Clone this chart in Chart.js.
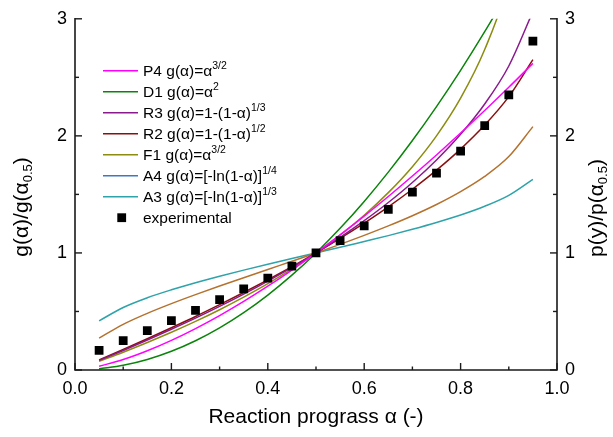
<!DOCTYPE html>
<html>
<head>
<meta charset="utf-8">
<script src="https://cdn.jsdelivr.net/npm/chart.js@4/dist/chart.umd.min.js"></script>
<style>
html,body{margin:0;padding:0;background:#fff;}
#wrap{position:relative;width:613px;height:437px;}
</style>
</head>
<body>
<div id="wrap"><canvas id="c" width="613" height="437"></canvas></div>
<script>
// Reaction progress values (x)
const alpha = [0.05,0.10,0.15,0.20,0.25,0.30,0.35,0.40,0.45,0.50,0.55,0.60,0.65,0.70,0.75,0.80,0.85,0.90,0.95];
// Experimental points
const experimental = [0.167,0.250,0.337,0.422,0.510,0.601,0.692,0.785,0.888,1.000,1.106,1.231,1.372,1.520,1.681,1.869,2.087,2.351,2.810];
// Model curves
const P4 = [0.032,0.089,0.164,0.253,0.354,0.465,0.586,0.716,0.854,1.000,1.154,1.315,1.482,1.657,1.837,2.024,2.217,2.415,2.619];
const D1 = [0.010,0.040,0.090,0.160,0.250,0.360,0.490,0.640,0.810,1.000,1.210,1.440,1.690,1.960,2.250,2.560,2.890,3.240,3.610];
const R3 = [0.082,0.167,0.256,0.348,0.443,0.543,0.648,0.759,0.876,1.000,1.133,1.276,1.431,1.602,1.794,2.013,2.272,2.597,3.062];
const R2 = [0.086,0.175,0.267,0.361,0.457,0.558,0.662,0.770,0.882,1.000,1.124,1.255,1.394,1.544,1.707,1.887,2.092,2.335,2.651];
const F1 = [0.074,0.152,0.235,0.322,0.415,0.515,0.622,0.737,0.863,1.000,1.152,1.322,1.515,1.737,2.000,2.322,2.737,3.322,4.322];
const A4curve = [0.272,0.390,0.484,0.567,0.644,0.717,0.788,0.859,0.929,1.000,1.073,1.150,1.231,1.318,1.414,1.524,1.654,1.823,2.079];
const A3 = [0.420,0.534,0.617,0.685,0.746,0.801,0.853,0.903,0.952,1.000,1.048,1.098,1.148,1.202,1.260,1.324,1.399,1.492,1.629];

// Tick labels
const xTickLabels = ['0.0','0.2','0.4','0.6','0.8','1.0'];
const yTickLabels = ['0','1','2','3'];

// Legend text
const legendNames = ['P4 g(α)=α','D1 g(α)=α','R3 g(α)=1-(1-α)','R2 g(α)=1-(1-α)','F1 g(α)=α','A4 g(α)=[-ln(1-α)]','A3 g(α)=[-ln(1-α)]','experimental'];
const legendSups = ['3/2','2','1/3','1/2','3/2','1/4','1/3',''];

const curveColors = ['#ff00ff','#0a840a','#8a1a8e','#8b0f0f','#8c8c10','#b5722e','#2ea3aa'];
const legendColors = ['#ff00ff','#0a840a','#8a1a8e','#8b0f0f','#8c8c10','#3d78c2','#2ea3aa'];

const FONT = '"Liberation Sans", Arial, Helvetica, sans-serif';
const AX = '#1a1a1a';

function pts(arr){ return alpha.map((a,i)=>({x:a,y:arr[i]})); }

const curveSets = [P4,D1,R3,R2,F1,A4curve,A3].map((arr,i)=>({
  label: legendNames[i],
  data: pts(arr),
  borderColor: curveColors[i],
  backgroundColor: curveColors[i],
  borderWidth: 1.5,
  pointRadius: 0,
  cubicInterpolationMode: 'monotone',
  fill: false,
  yAxisID: 'y'
}));

const expSet = {
  label: 'experimental',
  data: pts(experimental),
  showLine: false,
  pointStyle: 'rect',
  pointRadius: 6.2,
  pointBackgroundColor: '#000',
  pointBorderColor: '#000',
  pointBorderWidth: 0,
  borderColor: '#000',
  yAxisID: 'y'
};

function drawRich(ctx, parts, x, y, align){
  let total = 0;
  parts.forEach(p=>{ ctx.font = p.size+'px '+FONT; p.w = ctx.measureText(p.t).width; total += p.w + (p.gap||0); });
  let cx = align==='center' ? x - total/2 : x;
  parts.forEach(p=>{
    ctx.font = p.size+'px '+FONT;
    ctx.fillText(p.t, cx, y + (p.dy||0));
    cx += p.w + (p.gap||0);
  });
}

const decor = {
  id: 'decor',
  afterDraw(chart){
    const ctx = chart.ctx;
    const ca = chart.chartArea;
    const xs = chart.scales.x, ys = chart.scales.y;
    ctx.save();
    ctx.strokeStyle = AX;
    ctx.lineWidth = 1.6;
    ctx.lineCap = 'square';
    ctx.beginPath();
    ctx.moveTo(ca.left, ys.getPixelForValue(3));
    ctx.lineTo(ca.left, ys.getPixelForValue(0));
    ctx.lineTo(ca.right, ys.getPixelForValue(0));
    ctx.lineTo(ca.right, ys.getPixelForValue(3));
    ctx.stroke();
    ctx.lineWidth = 1.4;
    ctx.lineCap = 'butt';
    for (let k=0;k<=10;k++){
      const px = xs.getPixelForValue(k/10);
      const len = (k%2===0) ? 7 : 3.5;
      ctx.beginPath(); ctx.moveTo(px, ca.bottom); ctx.lineTo(px, ca.bottom-len); ctx.stroke();
    }
    for (let k=0;k<=6;k++){
      const v = k/2;
      const py = ys.getPixelForValue(v);
      const len = (k%2===0) ? 7 : 4;
      ctx.beginPath(); ctx.moveTo(ca.left, py); ctx.lineTo(ca.left+len, py); ctx.stroke();
      ctx.beginPath(); ctx.moveTo(ca.right, py); ctx.lineTo(ca.right-len, py); ctx.stroke();
    }
    ctx.restore();

    // legend
    ctx.save();
    ctx.fillStyle = '#000';
    ctx.textBaseline = 'middle';
    ctx.textAlign = 'left';
    const y0 = 70.7, dy = 21.0;
    legendNames.forEach((name,i)=>{
      const ry = y0 + i*dy;
      if (i < 7){
        ctx.strokeStyle = legendColors[i];
        ctx.lineWidth = 1.5;
        ctx.beginPath(); ctx.moveTo(103, ry); ctx.lineTo(138, ry); ctx.stroke();
      } else {
        ctx.fillStyle = '#000';
        ctx.fillRect(121.7-4.4, ry-4.4, 8.8, 8.8);
      }
      ctx.fillStyle = '#000';
      const parts = [{t:name,size:15.5}];
      if (legendSups[i]) parts.push({t:legendSups[i],size:10.5,dy:-6});
      drawRich(ctx, parts, 143, ry+1, 'left');
    });
    ctx.restore();

    // axis titles
    ctx.save();
    ctx.fillStyle = '#000';
    ctx.textBaseline = 'middle';
    ctx.textAlign = 'left';
    drawRich(ctx, [{t:'Reaction prograss α (-)',size:21}], (ca.left+ca.right)/2, 417, 'center');
    ctx.translate(22, 207);
    ctx.rotate(-Math.PI/2);
    drawRich(ctx, [{t:'g(α)/g(α',size:21},{t:'0.5',size:13,dy:6},{t:')',size:21}], 0, 0, 'center');
    ctx.restore();
    ctx.save();
    ctx.fillStyle = '#000';
    ctx.textBaseline = 'middle';
    ctx.textAlign = 'left';
    ctx.translate(597, 208);
    ctx.rotate(-Math.PI/2);
    drawRich(ctx, [{t:'p(y)/p(α',size:21},{t:'0.5',size:13,dy:6},{t:')',size:21}], 0, 0, 'center');
    ctx.restore();
  }
};

new Chart(document.getElementById('c'), {
  type: 'line',
  data: { datasets: [expSet, ...curveSets] },
  options: {
    responsive: false,
    animation: false,
    events: [],
    layout: { padding: { top: 17, left: 0, right: 0, bottom: 0 } },
    plugins: { legend: { display: false }, tooltip: { enabled: false }, title: { display: false } },
    scales: {
      x: {
        type: 'linear', min: 0, max: 1,
        afterFit(s){ s.height = 67; },
        grid: { display: false, drawTicks: false },
        border: { display: false },
        ticks: {
          stepSize: 0.2, padding: 8, color: '#000',
          font: { family: FONT, size: 18 },
          maxRotation: 0,
          callback: (v)=>{ const i = Math.round(v*5); return (Math.abs(v*5-i)<1e-6) ? xTickLabels[i] : ''; }
        }
      },
      y: {
        type: 'linear', position: 'left', min: 0, max: 3,
        afterFit(s){ s.width = 75; },
        grid: { display: false, drawTicks: false },
        border: { display: false },
        ticks: {
          stepSize: 1, padding: 8, color: '#000',
          font: { family: FONT, size: 18 },
          callback: (v)=> Number.isInteger(v) ? yTickLabels[v] : ''
        }
      },
      y2: {
        type: 'linear', position: 'right', min: 0, max: 3,
        afterFit(s){ s.width = 56; },
        grid: { display: false, drawTicks: false },
        border: { display: false },
        ticks: {
          stepSize: 1, padding: 8, color: '#000',
          font: { family: FONT, size: 18 },
          callback: (v)=> Number.isInteger(v) ? yTickLabels[v] : ''
        }
      }
    }
  },
  plugins: [decor]
});
</script>
</body>
</html>
